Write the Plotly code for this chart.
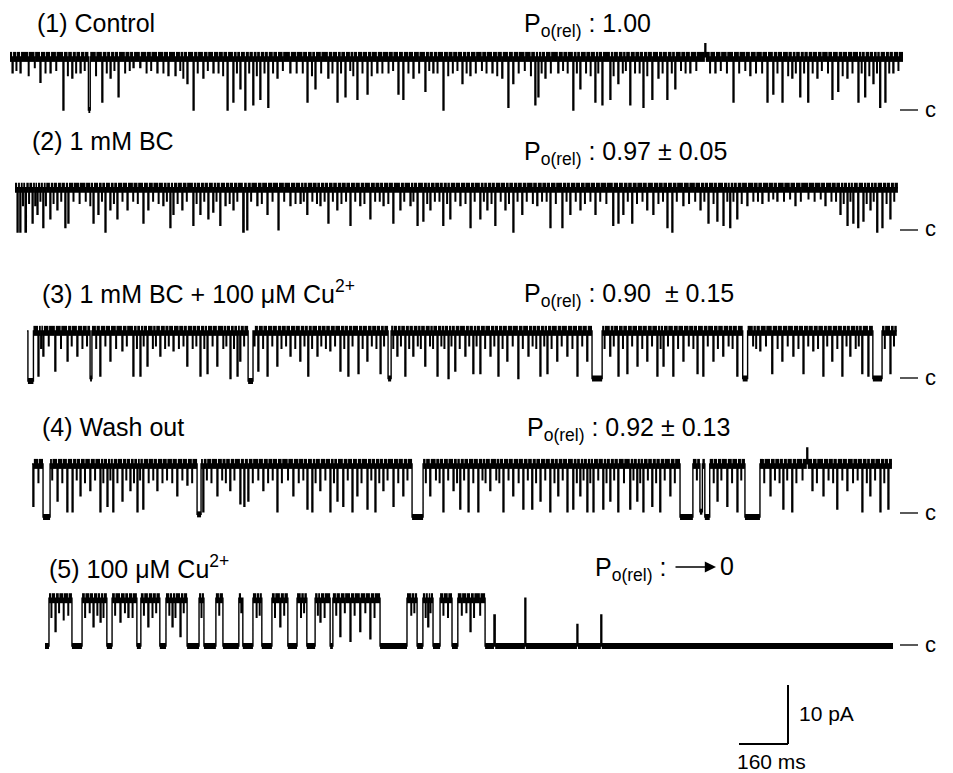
import plotly.graph_objects as go

# ---------------- data ----------------
labels = ["(1) Control", "(2) 1 mM BC", "(3) 1 mM BC + 100 μM Cu<sup>2+</sup>",
          "(4) Wash out", "(5) 100 μM Cu<sup>2+</sup>"]
po_values = ["1.00", "0.97 ± 0.05", "0.90\u00a0\u00a0± 0.15", "0.92 ± 0.13", "0"]
durations_ms = [2916, 2883, 2840, 2808, 2769]      # length of each record
unitary_pA = [9.0, 7.5, 8.5, 9.0, 8.1]               # open-closed amplitude as drawn
scale_ms = 160
scale_pA = 10
flicker_ms = 2                                       # duration of brief partial closures

# events: (start ms, duration ms, depth as fraction of the unitary current; 1 = closed)
control_events = [
    (7,3,.3),(33,3,.3),(98,3,.48),(131,3,.3),(173,3,1.0),(202,3,.4),(229,3,.3),(256,6,1.0),
    (300,3,.85),(327,3,.4),(353,3,.75),(402,3,.2),(424,3,.2),(480,3,.3),(516,3,.35),(539,3,.35),
    (578,3,.5),(598,3,1.0),(630,3,.4),(663,3,.3),(709,3,1.0),(728,3,.85),(751,3,.6),(767,3,1.0),
    (793,3,.9),(816,3,.8),(842,3,.95),(872,3,.4),(914,3,.3),(970,3,.85),(996,3,.6),(1038,3,.4),
    (1068,3,.85),(1094,3,.75),(1133,3,.8),(1166,3,.7),(1198,3,.3),(1267,3,.7),(1283,3,.8),
    (1316,3,.4),(1355,3,.65),(1381,3,.3),(1414,3,1.0),(1476,3,.5),(1502,3,.35),(1574,3,.3),
    (1606,3,.4),(1626,3,.95),(1642,3,.5),(1714,3,.9),(1724,3,.75),(1747,3,.4),(1789,3,.3),
    (1838,3,1.0),(1861,3,.6),(1910,3,.85),(1933,3,.9),(1959,3,.8),(1985,3,.5),(2024,3,.9),
    (2067,3,.95),(2096,3,.8),(2116,3,.4),(2145,3,.8),(2171,3,.6),(2220,3,.3),(2269,3,-.25),
    (2302,3,.3),(2361,3,.85),(2416,3,.35),(2472,3,.85),(2491,3,.7),(2521,3,.85),(2553,3,.4),
    (2579,3,.75),(2605,3,.85),(2635,3,.4),(2684,3,.8),(2703,3,.65),(2733,3,.4),(2769,3,.85),
    (2791,3,.75),(2818,3,.5),(2840,3,.95),(2857,3,.85),(2883,3,.3),
]
control_flickers = [
    (20,.25),(60,.35),(80,.2),(115,.3),(150,.25),(188,.35),(215,.3),(243,.25),(280,.35),(315,.3),
    (340,.25),(375,.3),(390,.25),(445,.3),(460,.25),(500,.3),(555,.25),(565,.4),(612,.3),(645,.25),
    (680,.3),(695,.35),(740,.3),(780,.3),(805,.35),(830,.3),(858,.3),(890,.25),(935,.3),(955,.3),
    (985,.35),(1015,.3),(1052,.3),(1080,.3),(1110,.25),(1120,.35),(1150,.3),(1180,.35),(1215,.3),
    (1235,.3),(1250,.25),(1300,.3),(1335,.3),(1368,.25),(1395,.3),(1430,.35),(1445,.3),(1460,.25),
    (1490,.3),(1520,.3),(1540,.25),(1555,.3),(1590,.35),(1660,.3),(1680,.25),(1700,.35),(1735,.3),
    (1765,.3),(1805,.25),(1820,.3),(1850,.3),(1880,.3),(1895,.35),(1920,.3),(1970,.35),(2000,.3),
    (2010,.25),(2040,.3),(2055,.3),(2080,.35),(2130,.3),(2160,.3),(2190,.25),(2205,.3),(2240,.25),
    (2285,.3),(2320,.25),(2340,.3),(2380,.3),(2400,.25),(2435,.3),(2455,.3),(2505,.3),(2540,.35),
    (2565,.3),(2592,.3),(2620,.3),(2650,.25),(2670,.3),(2718,.35),(2750,.3),(2780,.3),(2805,.35),
    (2830,.3),(2870,.3),(2900,.25),
]
bc_events = [
    (7,3,1.0),(16,3,1.0),(33,4,1.0),(56,3,.8),(72,3,.6),(91,3,.9),(114,3,.7),(137,3,.5),
    (163,3,.9),(173,3,.8),(255,3,.8),(271,3,.6),(294,3,1.0),(310,3,.5),(333,3,.7),(366,3,.5),
    (418,3,.8),(434,3,.5),(483,3,.4),(506,3,.9),(516,3,.6),(545,3,.5),(581,3,.85),(604,3,.6),
    (630,3,.7),(646,3,.55),(669,3,.85),(686,3,.4),(712,3,.5),(744,4,1.0),(757,3,.95),(790,3,.4),
    (823,3,.6),(859,3,.95),(898,3,.4),(931,3,.35),(953,3,.6),(996,3,.4),(1022,3,.8),(1051,3,.5),
    (1094,3,.85),(1126,3,.4),(1159,3,.7),(1202,3,.4),(1234,3,.8),(1257,3,.5),(1290,3,.4),
    (1313,3,.85),(1332,3,.75),(1355,3,.5),(1397,3,.85),(1420,3,.7),(1453,3,.4),(1486,3,.9),
    (1518,3,.7),(1541,3,.5),(1567,3,.85),(1600,3,.5),(1626,3,1.0),(1655,3,.6),(1704,3,.4),
    (1747,3,.9),(1786,3,.9),(1812,3,.6),(1845,3,.5),(1894,3,.6),(1952,3,.85),(1969,3,.8),
    (1985,3,.6),(2014,3,.8),(2063,3,.5),(2083,3,.6),(2129,3,.9),(2145,3,1.0),(2181,3,.4),
    (2237,3,.5),(2263,3,.8),(2292,3,.75),(2312,3,.85),(2334,3,.9),(2357,3,.7),(2390,3,.4),
    (2439,3,.35),(2488,3,.3),(2547,3,.4),(2645,3,.4),(2694,3,.6),(2717,3,.85),(2736,3,.8),
    (2752,3,.9),(2769,3,.75),(2792,3,.5),(2814,3,1.0),(2831,3,.9),(2857,3,.7),
]
bc_flickers = [
    (25,.4),(45,.35),(65,.4),(82,.3),(100,.4),(125,.35),(150,.3),(190,.3),(210,.35),(230,.3),
    (245,.4),(283,.3),(322,.35),(350,.3),(385,.3),(400,.35),(450,.3),(468,.35),(495,.3),(530,.35),
    (560,.3),(592,.35),(617,.3),(657,.3),(700,.35),(725,.3),(770,.3),(805,.35),(840,.3),(878,.3),
    (915,.35),(942,.3),(970,.3),(985,.35),(1010,.3),(1037,.3),(1065,.35),(1080,.3),(1110,.3),
    (1140,.35),(1175,.3),(1190,.3),(1218,.35),(1270,.3),(1300,.3),(1345,.35),(1370,.3),(1385,.3),
    (1410,.35),(1437,.3),(1470,.35),(1500,.3),(1530,.3),(1555,.35),(1585,.3),(1612,.35),(1640,.3),
    (1670,.3),(1690,.35),(1720,.3),(1735,.3),(1765,.35),(1800,.3),(1830,.3),(1860,.35),(1878,.3),
    (1910,.3),(1930,.35),(2000,.3),(2030,.35),(2048,.3),(2100,.35),(2115,.3),(2160,.3),(2200,.35),
    (2220,.3),(2250,.3),(2280,.35),(2325,.3),(2345,.3),(2372,.35),(2410,.3),(2425,.3),(2460,.3),
    (2475,.25),(2510,.3),(2530,.25),(2565,.3),(2590,.25),(2610,.3),(2630,.25),(2665,.3),(2680,.3),
    (2705,.35),(2727,.3),(2780,.35),(2803,.3),(2845,.35),(2870,.3),
]
bc_cu_events = [
    (3,18,1.0),(36,3,.9),(52,3,.5),(91,3,.8),(131,3,.6),(163,3,.5),(206,6,.95),(238,3,.9),
    (271,3,.6),(310,3,.4),(346,3,.9),(369,3,.9),(392,3,.7),(434,3,.5),(477,3,.4),(522,3,.7),
    (565,3,.9),(588,3,.85),(620,3,.7),(663,3,.95),(686,3,.9),(695,3,.6),(722,16,1.0),(754,3,.8),
    (784,3,.9),(816,3,.7),(859,3,.5),(891,3,.6),(917,3,.9),(947,3,.5),(989,3,.4),(1022,3,.8),
    (1048,3,.9),(1081,3,.85),(1110,3,.6),(1153,3,.85),(1179,10,.95),(1208,3,.5),(1234,3,.9),
    (1260,3,.5),(1299,3,.7),(1339,3,.9),(1375,3,.95),(1397,3,.8),(1430,3,.5),(1456,3,.85),
    (1479,3,.85),(1512,3,.5),(1538,3,.9),(1567,3,.6),(1603,3,.95),(1636,3,.5),(1675,3,.9),
    (1698,3,.85),(1730,3,.6),(1763,3,.5),(1796,3,.9),(1828,3,.6),(1845,33,.95),(1903,3,.5),
    (1930,3,.9),(1959,3,.85),(1992,3,.7),(2024,3,.6),(2057,3,.9),(2077,3,.7),(2109,3,.9),
    (2142,3,.6),(2188,3,.85),(2207,3,.9),(2240,3,.6),(2272,3,.5),(2318,3,.9),(2337,16,.95),
    (2393,3,.4),(2432,3,.85),(2465,3,.6),(2501,3,.5),(2534,3,.85),(2566,3,.4),(2599,3,.9),
    (2628,3,.6),(2661,3,.9),(2687,3,.5),(2726,3,.85),(2746,3,.9),(2762,30,.95),(2818,3,.85),
]
bc_cu_flickers = [
    (45,.35),(70,.3),(110,.35),(145,.3),(180,.35),(195,.3),(225,.35),(255,.3),(290,.35),(325,.3),
    (358,.35),(380,.3),(410,.35),(420,.3),(450,.35),(462,.3),(495,.35),(510,.3),(540,.35),(552,.3),
    (578,.35),(605,.3),(640,.35),(650,.3),(675,.35),(708,.3),(742,.3),(770,.35),(800,.3),(830,.35),
    (845,.3),(875,.35),(905,.3),(930,.35),(960,.3),(975,.35),(1005,.3),(1035,.35),(1062,.3),
    (1095,.35),(1125,.3),(1140,.35),(1165,.3),(1195,.35),(1220,.3),(1247,.35),(1275,.3),(1285,.35),
    (1315,.3),(1325,.35),(1352,.3),(1362,.35),(1385,.3),(1412,.35),(1443,.3),(1467,.3),(1495,.35),
    (1525,.3),(1552,.35),(1585,.3),(1618,.35),(1650,.3),(1662,.35),(1688,.3),(1712,.35),(1745,.3),
    (1780,.35),(1812,.3),(1885,.35),(1915,.3),(1945,.35),(1975,.3),(2008,.35),(2040,.3),(2068,.35),
    (2092,.3),(2125,.35),(2160,.3),(2175,.35),(2222,.3),(2255,.35),(2290,.3),(2303,.35),(2370,.3),
    (2380,.35),(2412,.3),(2450,.35),(2483,.3),(2518,.35),(2550,.3),(2582,.35),(2612,.3),(2645,.35),
    (2675,.3),(2705,.35),(2715,.3),(2800,.35),(2830,.3),
]
washout_events = [
    (3,3,.8),(36,23,1.0),(82,3,.7),(114,3,.9),(131,3,.9),(157,3,.6),(189,3,.5),(222,3,.9),
    (245,3,.8),(264,3,.9),(294,3,.7),(320,3,.5),(343,3,.9),(362,3,.85),(408,3,.5),(473,3,.6),
    (506,3,.4),(539,13,.95),(558,3,.9),(604,3,.6),(646,3,.5),(679,3,.75),(692,3,.8),(705,3,.7),
    (754,3,.5),(800,3,.9),(852,3,.6),(898,3,.85),(914,3,.9),(940,3,.5),(973,3,.9),(996,3,.7),
    (1015,3,.8),(1045,3,.9),(1061,3,.6),(1094,3,.85),(1120,3,.9),(1146,3,.5),(1179,3,.8),
    (1211,3,.6),(1241,36,1.0),(1299,3,.6),(1342,3,.9),(1375,3,.5),(1397,3,.85),(1424,3,.9),
    (1456,3,.9),(1495,3,.5),(1538,3,.9),(1570,3,.6),(1603,3,.85),(1632,3,.85),(1659,3,.7),
    (1691,3,.9),(1717,3,.6),(1747,3,.9),(1766,3,.85),(1789,3,.6),(1812,3,.9),(1832,3,.9),
    (1864,3,.85),(1887,3,.7),(1913,3,.9),(1952,3,.85),(1975,3,.7),(1995,3,.9),(2024,3,.8),
    (2050,3,.9),(2083,3,.6),(2116,42,1.0),(2181,8,.9),(2197,16,1.0),(2237,3,.7),(2269,3,.8),
    (2302,3,.9),(2328,49,1.0),(2410,3,.6),(2452,3,.85),(2481,3,.9),(2530,3,-.3),(2547,3,.5),
    (2583,3,.6),(2628,3,.85),(2661,3,.5),(2710,3,.9),(2736,3,.6),(2769,3,.9),(2795,3,.85),
]
washout_flickers = [
    (20,.35),(65,.3),(98,.35),(145,.3),(172,.35),(205,.3),(232,.35),(255,.3),(278,.35),(307,.3),
    (332,.35),(352,.3),(380,.35),(395,.3),(425,.35),(440,.3),(457,.35),(490,.3),(522,.35),(570,.3),
    (585,.35),(620,.3),(632,.35),(660,.3),(720,.35),(738,.3),(770,.35),(785,.3),(815,.35),(835,.3),
    (870,.35),(885,.3),(925,.35),(957,.3),(985,.35),(1030,.3),(1075,.35),(1107,.3),(1133,.35),
    (1160,.3),(1195,.35),(1225,.3),(1285,.35),(1318,.3),(1330,.35),(1358,.3),(1387,.35),(1410,.3),
    (1440,.35),(1470,.3),(1480,.35),(1515,.3),(1525,.35),(1555,.3),(1588,.35),(1618,.3),(1645,.35),
    (1675,.3),(1705,.35),(1732,.3),(1778,.35),(1800,.3),(1822,.35),(1848,.3),(1875,.35),(1900,.3),
    (1932,.35),(1963,.3),(1985,.35),(2010,.3),(2037,.35),(2065,.3),(2098,.35),(2170,.3),(2225,.35),
    (2250,.3),(2285,.35),(2315,.3),(2390,.35),(2425,.3),(2440,.35),(2465,.3),(2495,.35),(2515,.3),
    (2562,.35),(2600,.3),(2615,.35),(2645,.3),(2680,.35),(2695,.3),(2725,.35),(2752,.3),(2782,.35),
]
cu_events = [
    # closures during the burst
    (0,13,1),(88,33,1),(202,17,1),(300,13,1),(375,20,1),(464,39,1),(519,39,1),(581,52,1),
    (646,33,1),(708,33,1),(793,30,1),(855,27,1),(931,9,1),(1094,88,1),(1215,19,1),(1267,23,1),
    (1329,19,1),
    # brief partial closures
    (33,3,.7),(157,3,.6),(180,3,.5),(245,3,.5),(271,3,.4),(336,3,.6),(415,3,.6),(441,3,.8),
    (767,3,.6),(898,3,.5),(963,3,.8),(996,3,.9),(1028,3,.7),(1061,3,.85),(1250,3,.6),(1388,3,.7),
    # channel closes for good, with four brief openings
    (1437,1332,1),(1466,4,.35),(1567,3,0.0),(1737,3,.55),(1815,3,.35),
]
cu_flickers = [
    (20,.4),(45,.3),(60,.45),(75,.35),(130,.4),(145,.3),(170,.35),(190,.4),(228,.35),(260,.3),
    (285,.4),(322,.35),(350,.4),(362,.3),(405,.35),(425,.4),(452,.3),(510,.4),(568,.35),(640,.3),
    (690,.4),(700,.35),(750,.4),(780,.35),(835,.4),(845,.3),(890,.35),(912,.4),(950,.35),(978,.3),
    (1010,.35),(1045,.3),(1075,.4),(1195,.35),(1205,.3),(1242,.4),(1258,.3),(1300,.35),(1315,.4),
    (1360,.35),(1375,.3),(1400,.4),(1420,.35),
]
all_events = [control_events, bc_events, bc_cu_events, washout_events, cu_events]
all_flickers = [control_flickers, bc_flickers, bc_cu_flickers, washout_flickers, cu_flickers]

# ---------------- layout geometry ----------------
W, H = 953, 773
MS_PER_PX = 160 / 49
PA_PER_PX = 10 / 59
x_start_px = [10, 15, 27, 32, 45]
closed_px = [110, 232, 381, 517, 646]
cline_px = [110, 230, 378, 513, 645]
label_pos = [(35, 23), (30, 141), (40, 292), (40, 427), (47, 567)]
po_pos = [(522, 23), (522, 151), (522, 293), (525, 427), (593, 567)]
FONT = "Liberation Sans, Arial, Helvetica, sans-serif"


def xd(px):
    return px * MS_PER_PX


def yd(py):
    return -py * PA_PER_PX


def build(events, total):
    bps = {0, total}
    for t, d, f in events:
        bps.add(t)
        bps.add(min(t + d, total))
    bps = sorted(bps)
    segs = []
    for a, b in zip(bps[:-1], bps[1:]):
        mid = (a + b) / 2
        active = [(d, f) for t, d, f in events if t <= mid < t + d]
        depth = min(active)[1] if active else 0.0
        segs.append((a, b, depth))
    return segs


fig = go.Figure()
for i in range(5):
    ev = list(all_events[i]) + [(t, flicker_ms, f) for t, f in all_flickers[i]]
    segs = build(ev, durations_ms[i])
    x0 = xd(x_start_px[i])
    closed = yd(closed_px[i])
    amp = unitary_pA[i]
    xs, ys = [], []
    bo_x, bo_y, bc_x, bc_y = [], [], [], []
    for a, b, dep in segs:
        lvl = closed + amp * (1 - dep)
        xs += [x0 + a, x0 + b]
        ys += [lvl, lvl]
        if b - a > 4:
            if dep >= 0.9:
                bc_x += [x0 + a, x0 + b, None]
                bc_y += [lvl, lvl, None]
            else:
                bo_x += [x0 + a, x0 + b, None]
                bo_y += [lvl, lvl, None]
    fig.add_trace(go.Scatter(x=bo_x, y=bo_y, mode="lines",
                             line=dict(color="black", width=10), hoverinfo="skip"))
    fig.add_trace(go.Scatter(x=bc_x, y=bc_y, mode="lines",
                             line=dict(color="black", width=6), hoverinfo="skip"))
    fig.add_trace(go.Scatter(x=xs, y=ys, mode="lines",
                             line=dict(color="black", width=1.4), hoverinfo="skip"))
    # closed-level marker
    fig.add_shape(type="line", x0=xd(900), x1=xd(918), y0=yd(cline_px[i]), y1=yd(cline_px[i]),
                  line=dict(color="black", width=1.3))

annotations = []
for i in range(5):
    lx, ly = label_pos[i]
    annotations.append(dict(x=lx / W, y=1 - ly / H, xref="paper", yref="paper", text=labels[i],
                            showarrow=False, xanchor="left", yanchor="middle",
                            font=dict(family=FONT, size=25, color="black")))
    px_, py_ = po_pos[i]
    txt = "P<sub>o(rel)</sub> : " + (po_values[i] if i < 4 else "")
    annotations.append(dict(x=px_ / W, y=1 - (py_ + 2) / H, xref="paper", yref="paper", text=txt,
                            showarrow=False, xanchor="left", yanchor="middle",
                            font=dict(family=FONT, size=25, color="black")))
    annotations.append(dict(x=923 / W, y=1 - (cline_px[i] - 1) / H, xref="paper", yref="paper",
                            text="c", showarrow=False, xanchor="left", yanchor="middle",
                            font=dict(family=FONT, size=22, color="black")))
# arrow "→ 0" for trace 5
annotations.append(dict(x=716 / W, y=1 - 567 / H, xref="paper", yref="paper", text="",
                        showarrow=True, ax=-42, ay=0, arrowhead=2, arrowsize=1.4,
                        arrowwidth=1.6, arrowcolor="black"))
annotations.append(dict(x=718 / W, y=1 - 566 / H, xref="paper", yref="paper", text=po_values[4],
                        showarrow=False, xanchor="left", yanchor="middle",
                        font=dict(family=FONT, size=25, color="black")))
# scale bar labels
annotations.append(dict(x=797 / W, y=1 - 713 / H, xref="paper", yref="paper",
                        text=f"{scale_pA} pA", showarrow=False, xanchor="left", yanchor="middle",
                        font=dict(family=FONT, size=21, color="black")))
annotations.append(dict(x=735 / W, y=1 - 761 / H, xref="paper", yref="paper",
                        text=f"{scale_ms} ms", showarrow=False, xanchor="left", yanchor="middle",
                        font=dict(family=FONT, size=21, color="black")))

# scale bar
bar_x = xd(788)
bar_y = yd(744)
fig.add_shape(type="line", x0=bar_x, x1=bar_x, y0=bar_y, y1=bar_y + scale_pA,
              line=dict(color="black", width=2))
fig.add_shape(type="line", x0=bar_x - scale_ms, x1=bar_x, y0=bar_y, y1=bar_y,
              line=dict(color="black", width=2))

fig.update_layout(
    width=W, height=H, margin=dict(l=0, r=0, t=0, b=0),
    paper_bgcolor="white", plot_bgcolor="white", showlegend=False,
    xaxis=dict(range=[0, xd(W)], visible=False, fixedrange=True),
    yaxis=dict(range=[yd(H), 0], visible=False, fixedrange=True),
    annotations=annotations,
)
fig.write_html("out.html", config={"displayModeBar": False},
               post_script="document.body.style.margin='0';document.body.style.padding='0';"
                           "document.documentElement.style.overflow='hidden';")
